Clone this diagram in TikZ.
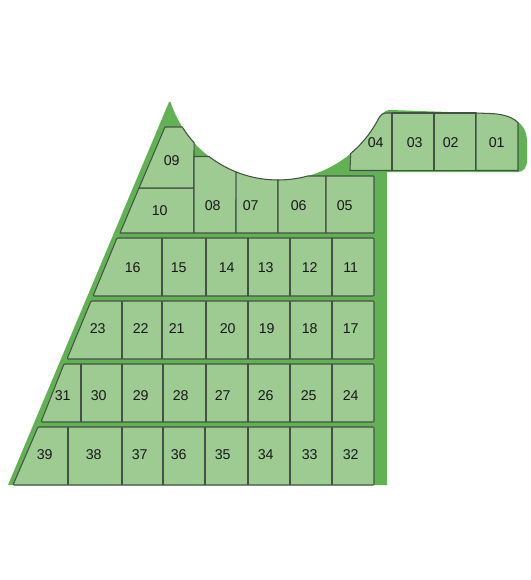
\documentclass[tikz,border=0pt]{standalone}
\usepackage{fontspec}
\setmainfont{Liberation Sans}
\definecolor{parkgreen}{HTML}{62B255}
\definecolor{lotgreen}{HTML}{9DCB92}
\definecolor{lotline}{HTML}{445244}
\tikzset{
  site/.style={fill=parkgreen,draw=none},
  lot/.style={fill=lotgreen,draw=lotline,line width=1.05pt,line join=round},
  divider/.style={draw=lotline,line width=1.05pt},
  num/.style={font=\fontsize{14.2}{14}\selectfont,text=black!90,inner sep=0pt}
}
\begin{document}
\begin{tikzpicture}[x=1pt,y=-1pt]
\useasboundingbox (0,0) rectangle (530,580);
% green site
\fill[site] (8,485) -- (169,102)
  -- plot[domain=162:26,samples=70] ({278+113*cos(\x)},{67+113*sin(\x)})
  .. controls (384,111) and (387,110) .. (391,110)
  -- (477,113) .. controls (505,113) and (527,118) .. (527,142)
  -- (527,160) .. controls (527,168) and (523,172) .. (518,172)
  -- (387,172) -- (387,485) -- cycle;
% rows
\draw[lot,rounded corners=1pt] (13,485) -- (38,427) -- (374,427) -- (374,485) -- cycle;
\draw[lot,rounded corners=1pt] (41,422) -- (64,364) -- (374,364) -- (374,422) -- cycle;
\draw[lot,rounded corners=1pt] (67,359) -- (91,301) -- (374,301) -- (374,359) -- cycle;
\draw[lot,rounded corners=1pt] (93,296) -- (117,238) -- (374,238) -- (374,296) -- cycle;
\foreach \x in {68,122,163,205,248,290,332} \draw[divider] (\x,427) -- (\x,485);
\foreach \x in {81,122,163,206,248,290,332} \draw[divider] (\x,364) -- (\x,422);
\foreach \x in {122,162,206,248,290,332} \draw[divider] (\x,301) -- (\x,359);
\foreach \x in {162,206,248,290,332} \draw[divider] (\x,238) -- (\x,296);
% top row
\draw[lot] (120,233) -- (139,188) -- (194,188) -- (194,233) -- cycle;
\draw[lot] (139,188) -- (165,127) -- (181,127)
  -- plot[domain=148:138,samples=6] ({278+113*cos(\x)},{67+113*sin(\x)})
  -- (194,188) -- cycle;
\draw[lot] (194,233) -- (194,156.5) -- (209.5,156.5)
  -- plot[domain=127.4:111.8,samples=10] ({278+113*cos(\x)},{67+113*sin(\x)})
  -- (236,233) -- cycle;
\draw[lot] (236,233) -- plot[domain=111.8:90,samples=10] ({278+113*cos(\x)},{67+113*sin(\x)})
  -- (278,233) -- cycle;
\draw[lot] (278,233) -- plot[domain=90:74.7,samples=8] ({278+113*cos(\x)},{67+113*sin(\x)})
  -- (326,176) -- (326,233) -- cycle;
\draw[lot,rounded corners=0.5pt] (326,176) -- (374,176) -- (374,233) -- (326,233) -- cycle;
% upper right strip
\draw[lot] (350,170.5) -- plot[domain=50:27,samples=12] ({278+113*cos(\x)},{67+113*sin(\x)})
  .. controls (381,115) and (383,113) .. (385,113)
  -- (392,113) -- (392,170.5) -- cycle;
\draw[lot] (392,113) rectangle (434,170.5);
\draw[lot] (434,113) rectangle (476,170.5);
\draw[lot] (476,170.5) -- (476,113) -- (490,113.5)
  .. controls (505,114) and (514,118) .. (518,123)
  -- (518,170.5) -- cycle;
% labels
\foreach \t/\x/\y in {
  01/496.7/142.7,02/450.7/142.7,03/414.7/142.7,04/375.7/142.7,
  05/344.7/205.7,06/298.7/205.7,07/250.7/205.7,08/212.7/205.7,09/171.7/160.7,10/159.7/210.7,
  11/350.7/267.7,12/309.7/267.7,13/265.7/267.7,14/226.7/267.7,15/178.7/267.7,16/132.7/267.7,
  17/350.7/328.7,18/309.7/328.7,19/266.7/328.7,20/227.7/328.7,21/176.7/328.7,22/140.7/328.7,23/97.7/328.7,
  24/350.7/395.7,25/308.7/395.7,26/265.7/395.7,27/222.7/395.7,28/180.7/395.7,29/140.7/395.7,30/98.7/395.7,31/62.7/395.7,
  32/350.7/454.7,33/309.7/454.7,34/265.7/454.7,35/222.7/454.7,36/178.7/454.7,37/139.7/454.7,38/93.7/454.7,39/44.7/454.7}
  \node[num] (n\t) at (\x,\y) {\t};
\end{tikzpicture}
\end{document}
